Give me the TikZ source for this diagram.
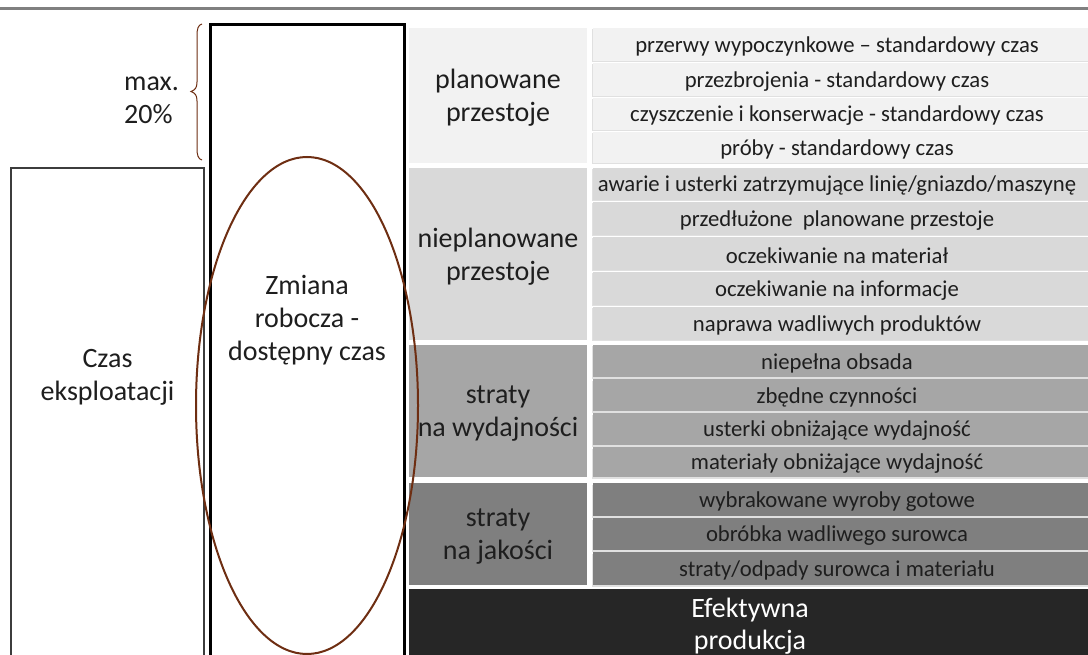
\documentclass[tikz,border=0pt]{standalone}
\usepackage{fontspec}
\setmainfont{Carlito}
\definecolor{cA}{HTML}{F2F2F2}
\definecolor{cB}{HTML}{D9D9D9}
\definecolor{cC}{HTML}{A6A6A6}
\definecolor{cD}{HTML}{7F7F7F}
\definecolor{cE}{HTML}{262626}
\definecolor{txt}{HTML}{1E1E1E}
\definecolor{brn}{HTML}{6E2E12}
\definecolor{boxgray}{HTML}{3C3C3C}
\definecolor{topgray}{HTML}{808080}
\begin{document}
\begin{tikzpicture}[x=1pt,y=-1pt,
  subtxt/.style={inner sep=0pt, align=center, text=txt, font=\fontsize{22.7}{26}\selectfont},
  lbl/.style={align=center, inner sep=0pt, text=txt, font=\fontsize{28}{33}\selectfont},
  shadow/.style={fill=black!12},
]
\useasboundingbox (0,0) rectangle (1088,655);
\fill[white] (0,0) rectangle (1088,655);
\draw[topgray, line width=3pt] (0,8.5) -- (1088,8.5);

\begin{scope}
\clip (0,0) rectangle (1088,655);
% left boxes
\draw[boxgray, line width=2pt] (11,680) -- (11,168) -- (204,168) -- (204,680);
\draw[black, line width=3pt] (210,680) -- (210,25) -- (404,25) -- (404,680);

% category cells (left column)
\fill[cA] (409,28) rectangle (587,163);
\fill[cB] (409,168) rectangle (587,340);
\fill[cC] (409,345) rectangle (587,477);
\fill[cD] (409,483) rectangle (587,585);
\fill[cE] (409,589) rectangle (1088,659);
\node[lbl] (pl) at (498,98) {planowane\\przestoje};
\node[lbl] (np) at (498,257) {nieplanowane\\przestoje};
\node[lbl] (sw) at (498,414) {straty\\na wydajności};
\node[lbl] (sj) at (498,537) {straty\\na jakości};
\node[lbl, text=white, font=\fontsize{28}{32}\selectfont] (ef) at (750,626) {Efektywna\\produkcja};

% sub cells (right column)
\foreach \n/\c/\ya/\yb/\t in {
  p1/cA/28/61/{przerwy wypoczynkowe – standardowy czas},
  p2/cA/63/96/{przezbrojenia - standardowy czas},
  p3/cA/98/130/{czyszczenie i konserwacje - standardowy czas},
  p4/cA/132/163/{próby - standardowy czas},
  n1/cB/168/200/{awarie i usterki zatrzymujące linię/gniazdo/maszynę},
  n2/cB/202/235/{przedłużone\ \ planowane przestoje},
  n3/cB/237/270/{oczekiwanie na materiał},
  n4/cB/272/305/{oczekiwanie na informacje},
  n5/cB/307/340/{naprawa wadliwych produktów},
  w1/cC/345/377/{niepełna obsada},
  w2/cC/379/411/{zbędne czynności},
  w3/cC/413/445/{usterki obniżające wydajność},
  w4/cC/447/477/{materiały obniżające wydajność},
  j1/cD/483/516/{wybrakowane wyroby gotowe},
  j2/cD/518/550/{obróbka wadliwego surowca},
  j3/cD/552/585/{straty/odpady surowca i materiału}}{
  \fill[shadow] (591.5,\ya+1.5) rectangle (1088,\yb+1.5);
  \fill[\c] (593,\ya) rectangle (1088,\yb);
  \node[subtxt] (\n) at (837,{(\ya+\yb)/2+2}) {\t};
}

% text labels
\node[lbl] (czas) at (107.5,377) {Czas\\eksploatacji};
\node[lbl] (zm) at (307,320) {Zmiana\\robocza -\\dostępny czas};
\node[lbl, align=left, anchor=west] (mx) at (124,100) {max.\\20\%};

% ellipse
\draw[brn, line width=2pt] (307,405.5) ellipse [x radius=111, y radius=248.5];
\end{scope}

% brace
\draw[brn, line width=1pt] (202,24) .. controls (198,25) and (197,29) .. (197,36)
  -- (197,82) .. controls (197,88) and (195,90) .. (191,91.5)
  .. controls (195,93) and (197,95) .. (197,101)
  -- (197,148) .. controls (197,155) and (198,159) .. (202,160);
\end{tikzpicture}
\end{document}
